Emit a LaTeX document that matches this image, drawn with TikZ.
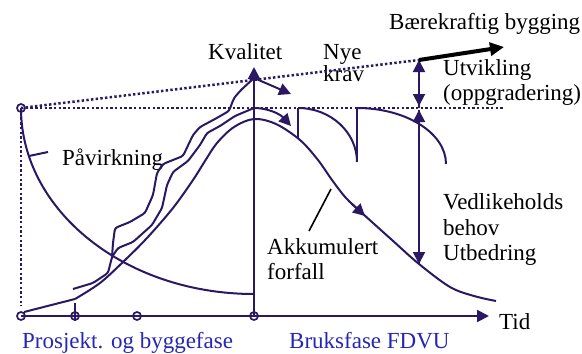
\documentclass[tikz,border=0pt]{standalone}
\usepackage{fontspec}
\setmainfont{Liberation Serif}
\usetikzlibrary{arrows.meta}
\definecolor{navy}{RGB}{42,24,98}
\definecolor{phase}{RGB}{38,38,178}
\begin{document}
\begin{tikzpicture}[x=1pt,y=-1pt,
  ln/.style={draw=navy,line width=2pt,line join=round},
  dotline/.style={draw=navy,line width=2.5pt,dash pattern=on 2.4pt off 2.3pt},
  tri/.style={-{Triangle[length=12pt,width=12pt]}},
  lbl/.style={font=\fontsize{23}{26}\selectfont,anchor=base west,inner sep=0pt,text=black},
  phaselbl/.style={lbl,text=phase},
  ring/.style={draw=navy,line width=1.7pt}]
\useasboundingbox (0,0) rectangle (582,354);

% key points
\coordinate (O) at (21,316);
\coordinate (T) at (21,108);
\coordinate (K) at (254,316);
\coordinate (Ktop) at (254,67);
\coordinate (Tidend) at (489,316);
\coordinate (U) at (419,60);
\coordinate (Ubot) at (419,264);

% labels
\node[lbl] (kval) at (208,59) {Kvalitet};
\node[lbl] (nye) at (323,59) {Nye};
\node[lbl] (krav) at (323,81) {krav};
\node[lbl] (baer) at (389,29) {Bærekraftig bygging};
\node[lbl] (utv) at (443,75) {Utvikling};
\node[lbl] (oppg) at (443,100) {(oppgradering)};
\node[lbl] (ved) at (443,209) {Vedlikeholds};
\node[lbl] (beh) at (443,235) {behov};
\node[lbl] (utb) at (443,260) {Utbedring};
\node[lbl] (akk) at (267,254) {Akkumulert};
\node[lbl] (forf) at (267,279) {forfall};
\node[lbl] (pav) at (62,165) {Påvirkning};
\node[lbl] (tid) at (499,329) {Tid};
\node[phaselbl] (pros) at (22,348) {Prosjekt. og byggefase};
\node[phaselbl] (bruk) at (289,348) {Bruksfase FDVU};

% dotted guide lines
\draw[dotline] (T) -- (503,108);
\draw[dotline] (T) -- (U);
\draw[dotline] (T) -- (21,306);

% axes
\draw[ln,tri] (O) -- (Tidend);
\draw[ln,tri] (K) -- (Ktop);
\draw[ln] (75,303) -- (75,321);

% rings on axes
\draw[ring] (O) circle[radius=4pt];
\draw[ring] (T) circle[radius=4pt];
\draw[ring] (75,316) circle[radius=4pt];
\draw[ring] (137,316) circle[radius=4pt];
\draw[ring] (K) circle[radius=4pt];

% influence arc
\draw[ln] (T) .. controls (21,210.7) and (125.3,294) .. (254,294);
\draw[ln] (29,156) -- (48,152);

% base line to first ring
\draw[ln] (24,312) -- (75,299);

% inner smooth curve + decay
\draw[ln] plot[smooth,tension=0.55] coordinates {(75,299) (100,283) (123,262) (147,238) (173,208) (193,180) (205,161) (217,143) (234,127) (254,119) (276,124) (300,140) (318,160) (332,180) (346,198) (362,213) (392,240) (419,264) (450,287) (474,296) (496,301)};
\draw[ln,tri] (351,203) -- (365,216);

% middle jagged curve
\draw[ln,rounded corners=2.5pt] (73,289) -- (93,283) -- (108,273) -- (112,257) -- (118,248) -- (133,242) -- (152,225) -- (162,208) -- (167,185) -- (173,172) -- (188,161) -- (200,145) -- (207,133) -- (220,126) -- (235,116) -- (254,108);
\draw[ln,tri] (254,108) .. controls (268,108) and (280,114) .. (291,126);

% outer jagged curve
\draw[ln,rounded corners=2.5pt] (112,257) -- (113,243) -- (115,228) -- (130,222) -- (145,213) -- (153,195) -- (157,173) -- (163,164) -- (183,156) -- (193,135) -- (200,127) -- (215,119) -- (229,111) -- (234,98) -- (241,90) -- (254,78);
\draw[ln,tri] (254,78) -- (291,94);

% maintenance sawtooth
\draw[ln] (298,108) -- (298,139);
\draw[ln] (298,108) .. controls (330.6,108) and (357,132.3) .. (357,162);
\draw[ln] (357,108) -- (357,162);
\draw[ln] (357,108) .. controls (406,108) and (446,133) .. (446,164);

% development / maintenance arrows
\draw[ln,tri] (419,108) -- (U);
\draw[ln,tri] (U) -- (419,106);
\draw[ln,tri] (Ubot) -- (419,110);
\draw[ln,tri] (419,110) -- (Ubot);

% sustainable building arrow
\draw[line width=4pt,-{Triangle[length=14pt,width=13pt]}] (U) -- (504,47);

% leader for Akkumulert forfall
\draw[line width=1.6pt] (309,231) -- (331,189);
\end{tikzpicture}
\end{document}
